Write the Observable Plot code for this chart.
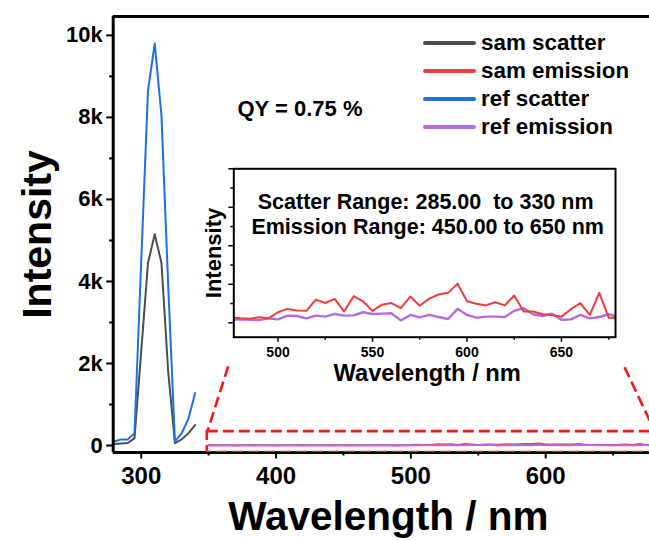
<!DOCTYPE html>
<html>
<head>
<meta charset="utf-8">
<script src="https://cdn.jsdelivr.net/npm/d3@7"></script>
<script src="https://cdn.jsdelivr.net/npm/@observablehq/plot@0.6"></script>
<style>
  html, body { margin: 0; padding: 0; background: #fff; }
  #wrap { position: relative; width: 649px; height: 540px; overflow: hidden; font-family: 'Liberation Sans', Arial, sans-serif; }
  #inset { position: absolute; left: 190px; top: 150px; }
  #legend { position: absolute; left: 423px; top: 28.5px; }
  .row { display: flex; align-items: center; height: 28.2px; }
  .sw { width: 53px; height: 4px; border-radius: 2px; margin-right: 5px; }
  .lab { font-size: 22.4px; font-weight: bold; color: #000; white-space: pre; }
</style>
</head>
<body>
<div id="wrap"></div>
<script>
// ---------- data ----------
const scatterWl = [280, 285, 290, 295, 300, 305, 310, 315, 320, 325, 330, 335, 340];
const samScatter = [40, 50, 60, 180, 2300, 4450, 5150, 4450, 1800, 60, 150, 300, 500];
const refScatter = [100, 150, 150, 300, 4500, 8650, 9800, 8050, 3900, 100, 300, 650, 1280];

const emissionWl = d3.range(350, 681, 5);
const samEmission = [
  6, 5, 7, 6, 5, 8, 6, 7, 5, 6, 8, 7, 6, 5, 7, 6, 8, 6, 7, 5, 6, 7, 6, 8, 6, 7,
  5.8, 5.3, 7.1, 5.8,
  13.7, 18.1, 15.9, 15.5, 30.1, 25.7, 31.0, 14.6, 34.5, 27.9, 15.5, 23.5, 25.7, 19.0, 34.1, 22.1, 31.4, 36.7, 38.9, 50.9,
  27.9, 24.8, 22.6, 26.6, 22.6, 35.4, 14.6, 14.6, 11.1, 10.2, 8.0, 17.7, 25.7, 10.2, 38.9, 6.6, 6.6
];
const refEmission = [
  4, 3, 4, 5, 3, 4, 4, 3, 5, 4, 3, 4, 5, 4, 3, 4, 4, 5, 3, 4, 4, 3, 5, 4, 4, 4,
  4.4, 4.0, 3.5, 5.8,
  4.4, 9.3, 8.8, 5.8, 9.3, 8.0, 11.5, 9.3, 9.7, 13.7, 11.5, 11.9, 12.4, 3.1, 10.2, 7.1, 10.2, 7.5, 4.9, 18.1,
  10.2, 6.6, 8.0, 8.0, 7.5, 15.5, 19.0, 11.1, 8.8, 11.9, 4.0, 4.4, 10.2, 5.8, 7.5, 11.1, 8.0
];

const seriesNames = ["sam scatter", "sam emission", "ref scatter", "ref emission"];
const seriesColors = ["#4d4d4d", "#f03c3c", "#1f6fe5", "#b36ae2"];

const yMajorTicks = [0, 2000, 4000, 6000, 8000, 10000];
const yMinorTicks = [1000, 3000, 5000, 7000, 9000];
const xMajorTicks = [300, 400, 500, 600];
const xMinorTicks = [350, 450, 550, 650];

const insetXMajor = [500, 550, 600, 650];
const insetXMinor = [525, 575, 625, 675];
const insetYMajor = [0, 50, 100, 150, 200];
const insetYMinor = [25, 75, 125, 175];

// zoom box (main data units) and connector lines to the inset
const zoomBox = [{x1: 349, x2: 681, y1: -170, y2: 340}];
const connectors = [
  {x1: 364.5, y1: 1930, x2: 349, y2: 340},
  {x1: 658.5, y1: 1910, x2: 681, y2: 340}
];

// ---------- tables ----------
const scatterRows = (vals) => scatterWl.map((w, i) => ({w, v: vals[i]}));
const emissionRows = (vals) => emissionWl.map((w, i) => ({w, v: vals[i]}));
const samS = scatterRows(samScatter), refS = scatterRows(refScatter);
const samE = emissionRows(samEmission), refE = emissionRows(refEmission);

const FF = "'Liberation Sans', Arial, sans-serif";
const red = "#ff1414";

const main = Plot.plot({
  width: 649, height: 540,
  marginLeft: 112.7, marginRight: 0, marginTop: 16, marginBottom: 88,
  style: {fontFamily: FF, background: "white", color: "black"},
  x: {domain: [279.2, 677], label: null},
  y: {domain: [-170, 10460], label: null},
  marks: [
    Plot.axisY({ticks: yMinorTicks, tickSize: 3.5, tickFormat: () => "", strokeWidth: 2, label: null}),
    Plot.axisY({ticks: yMajorTicks, tickSize: 6.5, tickPadding: 4, strokeWidth: 2,
      tickFormat: d => d === 0 ? "0" : (d / 1000) + "k", fontSize: 22, fontWeight: "bold", label: null}),
    Plot.axisX({ticks: xMinorTicks, tickSize: 3.5, tickFormat: () => "", strokeWidth: 2, label: null}),
    Plot.axisX({ticks: xMajorTicks, tickSize: 6.5, tickPadding: 8, strokeWidth: 2,
      fontSize: 24, fontWeight: "bold", label: null}),
    Plot.line(samE, {x: "w", y: "v", stroke: seriesColors[1], strokeWidth: 2, clip: true}),
    Plot.line(refE, {x: "w", y: "v", stroke: seriesColors[3], strokeWidth: 2, clip: true}),
    Plot.line(samS, {x: "w", y: "v", stroke: seriesColors[0], strokeWidth: 2, clip: true}),
    Plot.line(refS, {x: "w", y: "v", stroke: seriesColors[2], strokeWidth: 2, clip: true}),
    Plot.ruleX([279.2], {y1: -170, y2: 10460, strokeWidth: 3}),
    Plot.ruleY([-170, 10460], {strokeWidth: 3}),
    Plot.rect(zoomBox, {x1: "x1", x2: "x2", y1: "y1", y2: "y2", fill: "none", stroke: red,
      strokeWidth: 2.6, strokeDasharray: "11,5", clip: true}),
    Plot.link(connectors, {x1: "x1", y1: "y1", x2: "x2", y2: "y2", stroke: red,
      strokeWidth: 2.6, strokeDasharray: "11,5", clip: true}),
    Plot.text(["QY = 0.75 %"], {frameAnchor: "top-left", textAnchor: "start", lineAnchor: "middle",
      dx: 124.3, dy: 92, fontSize: 22, fontWeight: "bold"}),
    Plot.text(["Wavelength / nm"], {frameAnchor: "bottom", textAnchor: "middle", lineAnchor: "middle",
      dx: 7, dy: 65, fontSize: 40.5, fontWeight: "bold"}),
    Plot.text(["Intensity"], {frameAnchor: "left", textAnchor: "middle", lineAnchor: "middle",
      rotate: -90, dx: -75.7, fontSize: 41, fontWeight: "bold"})
  ]
});

const inset = Plot.plot({
  width: 440, height: 240,
  marginLeft: 43.3, marginRight: 15, marginTop: 18.3, marginBottom: 53.3,
  style: {fontFamily: FF, background: "transparent", color: "black"},
  x: {domain: [476.6, 678.6], label: null},
  y: {domain: [-18.7, 200], label: null},
  marks: [
    Plot.axisY({ticks: insetYMinor, tickSize: 3, tickFormat: () => "", strokeWidth: 1.5, label: null}),
    Plot.axisY({ticks: insetYMajor, tickSize: 5, tickFormat: () => "", strokeWidth: 1.5, label: null}),
    Plot.axisX({ticks: insetXMinor, tickSize: 3, tickFormat: () => "", strokeWidth: 1.5, label: null}),
    Plot.axisX({ticks: insetXMajor, tickSize: 5, tickPadding: 5, strokeWidth: 1.5,
      fontSize: 14, fontWeight: "bold", label: null}),
    Plot.line(refE, {x: "w", y: "v", stroke: seriesColors[3], strokeWidth: 2.4, clip: true}),
    Plot.line(samE, {x: "w", y: "v", stroke: seriesColors[1], strokeWidth: 2, clip: true}),
    Plot.frame({strokeWidth: 2}),
    Plot.text(["Scatter Range: 285.00  to 330 nm"], {frameAnchor: "top", textAnchor: "middle", lineAnchor: "middle",
      dx: 1, dy: 33.4, fontSize: 21.5, fontWeight: "bold"}),
    Plot.text(["Emission Range: 450.00 to 650 nm"], {frameAnchor: "top", textAnchor: "middle", lineAnchor: "middle",
      dx: 3, dy: 58.4, fontSize: 21.5, fontWeight: "bold"}),
    Plot.text(["Wavelength / nm"], {frameAnchor: "bottom", textAnchor: "middle", lineAnchor: "middle",
      dx: 2.5, dy: 36.3, fontSize: 23.7, fontWeight: "bold"}),
    Plot.text(["Intensity"], {frameAnchor: "left", textAnchor: "middle", lineAnchor: "middle",
      rotate: -90, dx: -20.3, fontSize: 22, fontWeight: "bold"})
  ]
});

const wrap = document.getElementById("wrap");
wrap.appendChild(main);
const insetDiv = document.createElement("div");
insetDiv.id = "inset";
insetDiv.appendChild(inset);
wrap.appendChild(insetDiv);

const legend = document.createElement("div");
legend.id = "legend";
seriesNames.forEach((name, i) => {
  const row = document.createElement("div");
  row.className = "row";
  const sw = document.createElement("div");
  sw.className = "sw";
  sw.style.background = seriesColors[i];
  const lab = document.createElement("span");
  lab.className = "lab";
  lab.textContent = name;
  row.appendChild(sw);
  row.appendChild(lab);
  legend.appendChild(row);
});
wrap.appendChild(legend);
</script>
</body>
</html>
